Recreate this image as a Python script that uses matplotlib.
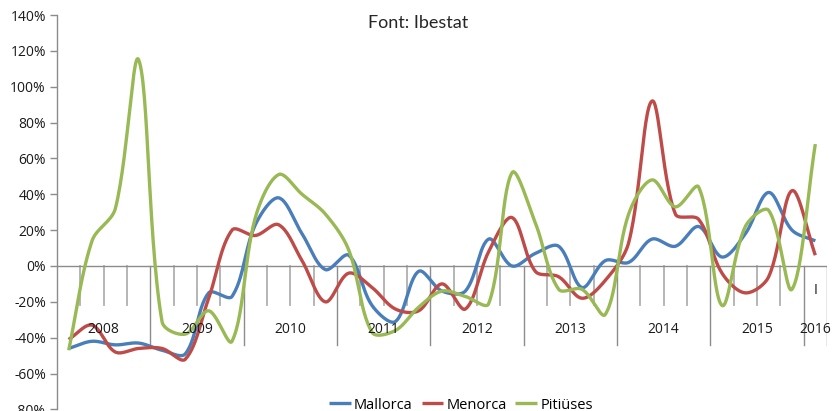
import numpy as np
import matplotlib
matplotlib.use("Agg")
import matplotlib.pyplot as plt

plt.rcParams['font.family'] = ['Open Sans', 'DejaVu Sans']

years = ['2008', '2009', '2010', '2011', '2012', '2013', '2014', '2015', '2016']
last_quarter_label = 'I'

# quarterly year-on-year change, %, 2008 Q1 .. 2016 Q1
mallorca = [-46, -42, -44, -43, -47, -49, -15, -17, 23, 38, 18, -2, 6,
            -22, -31, -3, -14, -14, 15, 0, 7, 11, -12, 3, 2, 15, 11, 22,
            5, 18, 41, 20, 14]
menorca = [-41, -33, -48, -46, -46, -52, -18, 20, 17, 23, 3, -20, -4,
           -12, -24, -25, -10, -24, 8, 27, -3, -6, -18, -8, 13, 92, 29, 26,
           -4, -15, -6, 42, 6]
pitiuses = [-47, 14, 32, 115, -31, -38, -25, -42, 27, 51, 40, 29, 9,
            -37, -36, -23, -14, -17, -21, 52, 24, -13, -13, -27, 29, 48, 33, 44,
            -22, 22, 31, -13, 68]

series = [('Mallorca', mallorca, '#4a7ebb'),
          ('Menorca', menorca, '#be4b48'),
          ('Pitiüses', pitiuses, '#98b954')]

# pixel size of one category and of one percent point, used for chord lengths
PX_X, PX_Y = 23.33, 1.793


def smooth(y, steps=30):
    # bezier through the points, tangents weighted by chord length
    y = np.asarray(y, dtype=float)
    x = np.arange(len(y), dtype=float)
    pts = np.column_stack([x, y])
    ext = np.vstack([pts[0], pts, pts[-1]])
    scale = np.array([PX_X, PX_Y])

    def dist(a, b):
        return np.hypot(*((b - a) * scale))

    out = []
    t = np.linspace(0, 1, steps)[:, None]
    for i in range(len(pts) - 1):
        pm, p0, p3, pp = ext[i], ext[i + 1], ext[i + 2], ext[i + 3]
        d0, d1, d2 = dist(pm, p0), dist(p0, p3), dist(p3, pp)
        f1 = d1 / (d0 + d1) if d0 + d1 > 0 else 0.5
        f2 = d1 / (d1 + d2) if d1 + d2 > 0 else 0.5
        p1 = p0 + (p3 - pm) * f1 / 3.0
        p2 = p3 - (pp - p0) * f2 / 3.0
        seg = ((1 - t) ** 3 * p0 + 3 * (1 - t) ** 2 * t * p1
               + 3 * (1 - t) * t ** 2 * p2 + t ** 3 * p3)
        out.append(seg if i == 0 else seg[1:])
    seg = np.vstack(out)
    return seg[:, 0], seg[:, 1]


fig = plt.figure(figsize=(8.35, 4.11), dpi=100)
ax = fig.add_axes([57 / 835, 1.6 / 411, 770 / 835, 394.4 / 411])

n = len(mallorca)
ax.set_xlim(-0.5, n - 0.5)
ax.set_ylim(-80, 140)

for name, vals, col in series:
    xs, ys = smooth(vals)
    ax.plot(xs, ys, color=col, lw=2.4, label=name, solid_capstyle='butt', zorder=3)

# category axis at zero
axis_col = '#8c8c8c'
ax.axhline(0, color=axis_col, lw=1, zorder=2)
for k in range(1, n + 1):
    xb = k - 0.5
    if k % 4 == 0 or k == n:
        ax.plot([xb, xb], [0, -44], color=axis_col, lw=1, zorder=1)
    else:
        ax.plot([xb, xb], [0, -21.8], color='#b0b0b0', lw=1.3, zorder=1)

for j, yr in enumerate(years):
    start = 4 * j
    end = min(4 * j + 3, n - 1)
    ax.text((start + end) / 2, -35.2, yr, ha='center', va='center',
            fontsize=10, color='#1a1a1a')
ax.text(n - 1, -13.5, last_quarter_label, ha='center', va='center',
        fontsize=10, color='#1a1a1a')

ax.set_xticks([])
ax.set_yticks(np.arange(-80, 141, 20))
ax.set_yticklabels(['%d%%' % v for v in np.arange(-80, 141, 20)])
ax.tick_params(axis='y', direction='out', length=5, width=1, color=axis_col,
               labelsize=10, labelcolor='#1a1a1a', pad=3)
for s in ['top', 'right', 'bottom']:
    ax.spines[s].set_visible(False)
ax.spines['left'].set_color(axis_col)
ax.spines['left'].set_linewidth(1)

fig.text(418 / 835, 1 - 23 / 411, 'Font: Ibestat', ha='center', va='center',
         fontsize=13, color='#262626', family=['Lato', 'DejaVu Sans'])

fig.legend(loc='center', bbox_to_anchor=(461 / 835, 1 - 405 / 411), ncol=3,
           frameon=False, fontsize=10.5, handlelength=1.5, handletextpad=0.2,
           columnspacing=0.6, borderaxespad=0)

fig.savefig('out.png', dpi=100)
